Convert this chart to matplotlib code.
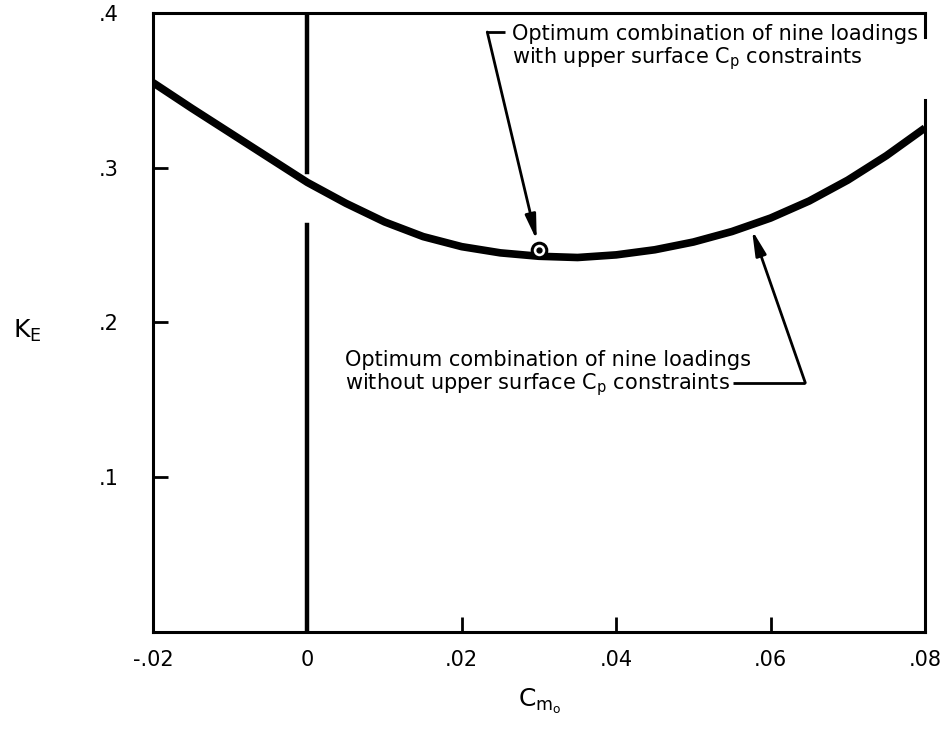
import matplotlib
matplotlib.use("Agg")
import matplotlib.pyplot as plt

plt.rcParams["font.family"] = ["DejaVu Sans"]
plt.rcParams["mathtext.default"] = "regular"

# K_E against C_mo, optimum combination of nine loadings (no upper surface Cp limit)
cm0 = [-0.020, -0.015, -0.010, -0.005, 0.000, 0.005, 0.010, 0.015, 0.020,
       0.025, 0.030, 0.035, 0.040, 0.045, 0.050, 0.055, 0.060, 0.065,
       0.070, 0.075, 0.080]
ke = [0.3550, 0.3385, 0.3225, 0.3065, 0.2905, 0.2770, 0.2650, 0.2555, 0.2490,
      0.2450, 0.2428, 0.2420, 0.2437, 0.2470, 0.2520, 0.2588, 0.2675, 0.2785,
      0.2920, 0.3078, 0.3257]

# single optimum with upper surface Cp constraints
opt_cm0 = 0.030
opt_ke = 0.247

xticks = [-0.02, 0.0, 0.02, 0.04, 0.06, 0.08]
xtick_labels = ["-.02", "0", ".02", ".04", ".06", ".08"]
yticks = [0.1, 0.2, 0.3, 0.4]
ytick_labels = [".1", ".2", ".3", ".4"]

fig = plt.figure(figsize=(9.48, 7.52), dpi=100)
ax = fig.add_axes([0.1614, 0.1596, 0.8143, 0.8231])

ax.plot(cm0, ke, color="black", lw=5.5, solid_capstyle="butt",
        solid_joinstyle="round", zorder=3)

# zero line, broken where the curve crosses it
ax.axvline(0.0, ymin=0.0, ymax=0.657, color="black", lw=3.2)
ax.axvline(0.0, ymin=0.743, ymax=1.0, color="black", lw=3.2)

# optimum point: open circle with a dot
ax.plot(opt_cm0, opt_ke, "o", ms=10.5, mfc="white", mec="black", mew=2.2, zorder=5)
ax.plot(opt_cm0, opt_ke, "o", ms=3.5, color="black", zorder=6)

ax.set_xlim(-0.02, 0.08)
ax.set_ylim(0, 0.4)
ax.set_xticks(xticks)
ax.set_xticklabels(xtick_labels)
ax.set_yticks(yticks)
ax.set_yticklabels(ytick_labels)
ax.tick_params(axis="both", direction="in", length=11, width=2, labelsize=15)
ax.tick_params(axis="x", pad=13)
ax.tick_params(axis="y", pad=25)

for side in ["left", "top", "bottom"]:
    ax.spines[side].set_linewidth(2.2)
ax.spines["right"].set_visible(False)
# right frame edge, interrupted by the upper note
ax.axvline(0.08, ymin=0.0, ymax=0.859, color="black", lw=2.2, clip_on=False)
ax.axvline(0.08, ymin=0.961, ymax=1.0, color="black", lw=2.2, clip_on=False)

head = "-|>,head_length=1.5,head_width=0.32"

# upper note and its leader to the optimum point
ax.text(0.0265, 0.393,
        "Optimum combination of nine loadings\nwith upper surface C$_p$ constraints",
        fontsize=15, ha="left", va="top", linespacing=1.05)
ax.plot([0.0233, 0.0256], [0.3877, 0.3877], color="black", lw=2, solid_capstyle="butt")
ax.annotate("", xy=(opt_cm0, opt_ke), xytext=(0.0233, 0.3877),
            arrowprops=dict(arrowstyle=head, color="black", lw=2,
                            mutation_scale=10, shrinkA=0, shrinkB=7))

# lower note and its leader to the curve
ax.text(0.0049, 0.1820,
        "Optimum combination of nine loadings\nwithout upper surface C$_p$ constraints",
        fontsize=15, ha="left", va="top", linespacing=1.05)
ax.plot([0.0551, 0.0645], [0.161, 0.161], color="black", lw=2, solid_capstyle="butt")
ax.annotate("", xy=(0.0573, 0.264), xytext=(0.0645, 0.161),
            arrowprops=dict(arrowstyle=head, color="black", lw=2,
                            mutation_scale=10, shrinkA=0, shrinkB=5))

ax.text(-0.163, 0.487, "K$_E$", transform=ax.transAxes, fontsize=18,
        ha="center", va="center")
ax.text(0.501, -0.112, "C$_{m_o}$", transform=ax.transAxes, fontsize=18,
        ha="center", va="center")

fig.savefig("out.png", dpi=100)
